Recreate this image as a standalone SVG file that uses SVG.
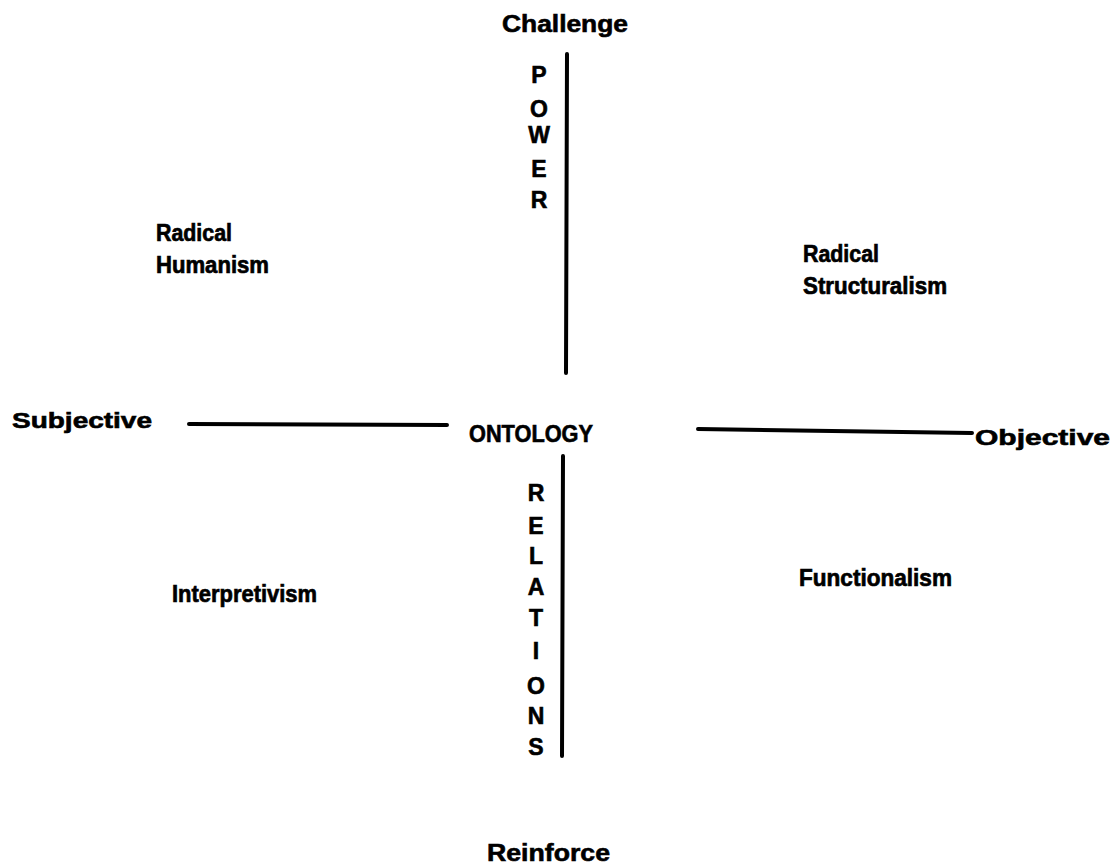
<svg xmlns="http://www.w3.org/2000/svg" width="1115" height="868" viewBox="0 0 1115 868">
<style>
.ax{font-family:"Liberation Sans",Arial,sans-serif;font-weight:bold;fill:#000;stroke:#000;stroke-width:0.6}
.q{font-family:"Liberation Sans",Arial,sans-serif;font-weight:bold;font-size:24px;fill:#000;stroke:#000;stroke-width:0.7}
.v{font-family:"Liberation Sans",Arial,sans-serif;font-weight:bold;font-size:23px;fill:#000;stroke:#000;stroke-width:0.6;text-anchor:middle}
.ln{stroke:#000;stroke-width:4;stroke-linecap:round;fill:none}
</style>
<rect width="1115" height="868" fill="#fff"/>
<g id="connectors">
<line class="ln" x1="567" y1="54" x2="566" y2="373"/>
<line class="ln" x1="563" y1="456" x2="562" y2="756"/>
<line class="ln" x1="189" y1="424" x2="447" y2="425"/>
<line class="ln" x1="698" y1="429" x2="972" y2="433"/>
</g>
<g id="challenge"><text class="ax" x="502" y="32" font-size="24" textLength="126" lengthAdjust="spacingAndGlyphs">Challenge</text></g>
<g id="reinforce"><text class="ax" x="487" y="861" font-size="24" textLength="123" lengthAdjust="spacingAndGlyphs">Reinforce</text></g>
<g id="subjective"><text class="ax" x="12" y="428" font-size="22" textLength="140" lengthAdjust="spacingAndGlyphs">Subjective</text></g>
<g id="objective"><text class="ax" x="975" y="445" font-size="22" textLength="135" lengthAdjust="spacingAndGlyphs">Objective</text></g>
<g id="ontology"><text class="ax" x="469" y="442" font-size="23" textLength="124" lengthAdjust="spacingAndGlyphs">ONTOLOGY</text></g>
<g id="power">
<text class="v" x="539" y="83">P</text>
<text class="v" x="539" y="117">O</text>
<text class="v" x="539" y="143">W</text>
<text class="v" x="539" y="177">E</text>
<text class="v" x="539" y="208">R</text>
</g>
<g id="relations">
<text class="v" x="536" y="501">R</text>
<text class="v" x="536" y="534">E</text>
<text class="v" x="536" y="564">L</text>
<text class="v" x="536" y="595">A</text>
<text class="v" x="536" y="626">T</text>
<text class="v" x="536" y="659">I</text>
<text class="v" x="536" y="694">O</text>
<text class="v" x="536" y="724">N</text>
<text class="v" x="536" y="755">S</text>
</g>
<g id="radical-humanism"><text class="q" x="156" y="241"><tspan textLength="76" lengthAdjust="spacingAndGlyphs">Radical</tspan><tspan x="156" y="273" textLength="113" lengthAdjust="spacingAndGlyphs">Humanism</tspan></text></g>
<g id="radical-structuralism"><text class="q" x="803" y="262"><tspan textLength="76" lengthAdjust="spacingAndGlyphs">Radical</tspan><tspan x="803" y="294" textLength="144" lengthAdjust="spacingAndGlyphs">Structuralism</tspan></text></g>
<g id="interpretivism"><text class="q" x="172" y="602" textLength="145" lengthAdjust="spacingAndGlyphs">Interpretivism</text></g>
<g id="functionalism"><text class="q" x="799" y="586" textLength="153" lengthAdjust="spacingAndGlyphs">Functionalism</text></g>
</svg>
